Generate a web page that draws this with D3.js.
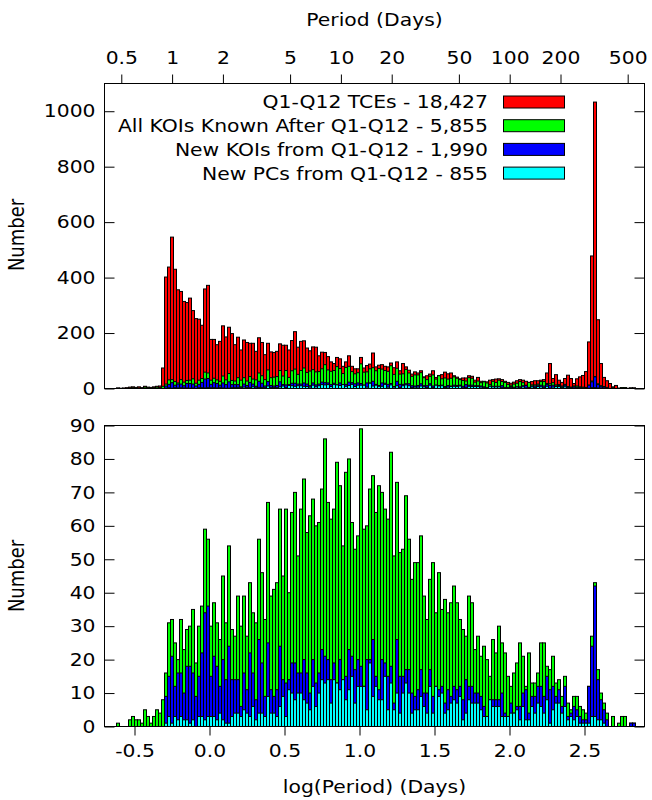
<!DOCTYPE html>
<html><head><meta charset="utf-8">
<script src="https://cdn.jsdelivr.net/npm/d3@7"></script>
<style>body{margin:0;background:#fff}svg{display:block}</style>
</head><body><svg id="c" width="652" height="800"></svg>
<script>
// histogram bins in log10(Period/days): left edge of first bin and bin width
const binStart = -0.62, binWidth = 0.02;

const tces = [2,1,2,3,5,6,4,6,3,8,
5,4,6,8,9,74,402,438,546,430,
356,350,314,310,326,281,252,250,228,359,
372,177,177,158,170,226,186,221,198,158,
185,139,175,166,163,163,134,183,166,122,
163,132,130,134,161,156,156,139,173,205,
149,170,172,146,136,150,149,118,131,130,
115,96,90,112,107,80,96,118,80,71,
71,112,74,83,88,128,78,84,86,80,
78,92,75,96,64,90,78,66,52,60,
56,64,42,46,52,64,40,47,50,59,
53,56,46,41,35,38,38,46,44,30,
40,26,26,24,30,32,34,35,32,26,
22,19,23,28,32,30,26,22,25,28,
28,30,32,56,90,36,50,30,22,36,
48,36,18,35,42,47,61,168,478,1033,
248,90,40,28,18,6,11,1,3,3,
1,2,2];

const allKOIs = [1,0,0,0,2,3,2,2,1,5,
3,1,3,5,4,8,16,31,32,25,
20,32,23,29,30,35,19,30,36,59,
56,30,37,31,26,45,31,54,29,27,
39,30,39,27,43,34,31,56,46,32,
67,39,41,43,65,45,65,40,64,70,
51,65,74,58,63,68,60,61,71,86,
67,62,65,79,72,54,76,80,61,53,
57,89,59,60,71,75,64,72,70,65,
62,82,51,73,52,53,69,56,44,49,
49,57,39,32,44,49,34,46,35,38,
34,37,42,37,32,29,27,39,37,23,
27,21,24,20,15,26,22,30,25,22,
15,12,16,19,25,21,12,22,13,13,
16,25,25,18,17,21,13,14,9,15,
7,5,9,9,6,5,4,12,27,43,
17,10,7,4,0,3,0,1,3,3,
0,1,1];

const newKOIs = [0,0,0,0,0,0,0,0,0,0,
0,0,0,0,0,0,9,15,21,12,
16,16,10,18,18,16,9,15,22,34,
36,15,21,18,12,20,14,24,14,14,
14,6,16,11,22,16,8,26,19,9,
25,11,9,11,24,14,13,14,19,19,
16,16,20,16,10,20,13,16,23,21,
20,14,19,13,20,14,15,23,21,17,
20,18,12,20,20,26,15,11,20,19,
15,18,7,26,15,15,17,17,10,9,
11,17,10,10,17,9,12,11,12,7,
11,9,12,11,12,8,14,12,12,10,
10,9,6,3,8,8,8,8,10,4,
3,7,4,6,6,10,11,4,9,9,
12,12,9,15,11,12,9,11,6,12,
3,4,6,5,3,2,2,12,24,42,
14,8,5,2,0,0,0,0,0,0,
0,1,1];

const newPCs = [0,0,0,0,0,0,0,0,0,0,
0,0,0,0,0,0,1,3,1,3,
2,3,2,2,1,2,0,3,3,2,
3,3,3,2,4,2,1,1,3,4,
4,3,5,4,3,6,2,4,4,3,
9,4,4,3,6,9,3,11,10,8,
10,10,8,7,5,12,6,10,14,13,
14,7,14,13,11,14,8,11,15,7,
12,12,12,5,19,9,12,8,8,15,
5,13,5,10,4,10,13,10,4,5,
5,9,6,4,12,4,12,9,10,4,
5,7,8,7,9,2,4,8,7,7,
7,5,3,3,8,6,6,6,3,3,
3,4,4,5,2,6,2,2,6,4,
7,6,4,8,1,5,7,7,4,6,
2,3,2,3,1,1,1,1,3,3,
2,2,1,0,0,0,0,0,0,0,
0,0,0];

const periodTicks = [0.5,1,2,5,10,20,50,100,200,500];
const logTicks = [-0.5,0,0.5,1,1.5,2,2.5];
const topYTicks = [0,200,400,600,800,1000];
const botYTicks = [0,10,20,30,40,50,60,70,80,90];
const legendLabels = ["Q1-Q12 TCEs - 18,427","All KOIs Known After Q1-Q12 - 5,855",
  "New KOIs from Q1-Q12 - 1,990","New PCs from Q1-Q12 - 855"];
const seriesColors = ["#ff0000","#00ff00","#0000ff","#00ffff"];

const FONT = "DejaVu Sans, sans-serif";
const SX = 1.13; // reference text is slightly wider than tall
const svg = d3.select("#c").style("font-family", FONT);
const L = 104.5, R = 644.5;
const x = d3.scaleLinear().domain([-0.7, 2.9]).range([L, R]);
const xTop = d3.scaleLog().domain([Math.pow(10,-0.4005), Math.pow(10,2.7986)]).range([L, R]);
const yTop = d3.scaleLinear().domain([0, 1100]).range([388.5, 83.5]);
const yBot = d3.scaleLinear().domain([0, 90]).range([726.5, 425.5]);

function drawBars(g, y, seriesList, colors) {
  seriesList.forEach((vals, si) => {
    const data = vals.map((v, i) => ({x0: binStart + i * binWidth, v})).filter(d => d.v > 0);
    g.append("g").selectAll("rect").data(data).join("rect")
      .attr("x", d => x(d.x0))
      .attr("width", d => x(d.x0 + binWidth) - x(d.x0))
      .attr("y", d => y(d.v))
      .attr("height", d => y(0) - y(d.v))
      .attr("fill", colors[si])
      .attr("stroke", "#000")
      .attr("stroke-width", 1);
  });
}

function styleAxis(sel) {
  sel.select(".domain").remove();
  sel.selectAll("text").attr("font-size", 18).attr("font-family", FONT).attr("fill", "#000");
  sel.selectAll("line").attr("stroke", "#000");
}

// ---- top panel ----
const gTop = svg.append("g");
drawBars(gTop, yTop, [tces, allKOIs, newKOIs, newPCs], seriesColors);
gTop.append("g").attr("transform", `translate(${L},0)`)
  .call(d3.axisLeft(yTop).tickValues(topYTicks).tickSize(-10).tickPadding(9).tickFormat(d3.format("d"))).call(styleAxis);
gTop.append("g").attr("transform", `translate(${R},0)`)
  .call(d3.axisRight(yTop).tickValues(topYTicks).tickSize(-10).tickFormat("")).call(styleAxis);
gTop.append("g").attr("transform", `translate(0,${yTop.range()[1]})`)
  .call(d3.axisTop(xTop).tickValues(periodTicks).tickSize(9).tickPadding(11).tickFormat(d3.format(""))).call(styleAxis);
gTop.append("rect").attr("x", L).attr("y", yTop.range()[1]).attr("width", R - L)
  .attr("height", yTop.range()[0] - yTop.range()[1]).attr("fill", "none").attr("stroke", "#000");

// legend
const legX = 488, boxX = 503, boxW = 61, rowY = [102, 125.7, 149.4, 173.1];
legendLabels.forEach((lab, i) => {
  gTop.append("text").attr("x", legX).attr("y", rowY[i]).attr("dy", "0.36em")
    .attr("text-anchor", "end").attr("font-size", 18).text(lab);
  gTop.append("rect").attr("x", boxX + 0.5).attr("y", rowY[i] - 6).attr("width", boxW).attr("height", 12)
    .attr("fill", seriesColors[i]).attr("stroke", "#000");
});

// ---- bottom panel ----
const gBot = svg.append("g");
drawBars(gBot, yBot, [allKOIs, newKOIs, newPCs], seriesColors.slice(1));
gBot.append("g").attr("transform", `translate(${L},0)`)
  .call(d3.axisLeft(yBot).tickValues(botYTicks).tickSize(-10).tickPadding(9).tickFormat(d3.format("d"))).call(styleAxis);
gBot.append("g").attr("transform", `translate(${R},0)`)
  .call(d3.axisRight(yBot).tickValues(botYTicks).tickSize(-10).tickFormat("")).call(styleAxis);
gBot.append("g").attr("transform", `translate(0,${yBot.range()[0]})`)
  .call(d3.axisBottom(x).tickValues(logTicks).tickSize(9).tickPadding(9).tickFormat(d => d.toFixed(1))).call(styleAxis);
gBot.append("rect").attr("x", L).attr("y", yBot.range()[1]).attr("width", R - L)
  .attr("height", yBot.range()[0] - yBot.range()[1]).attr("fill", "none").attr("stroke", "#000");

// titles
svg.append("text").attr("x", (L + R) / 2).attr("y", 26).attr("text-anchor", "middle").attr("font-size", 18).text("Period (Days)");
svg.append("text").attr("x", (L + R) / 2).attr("y", 793).attr("text-anchor", "middle").attr("font-size", 18).text("log(Period) (Days)");

// widen all horizontal text about its anchor point
svg.selectAll("text").each(function() {
  const t = d3.select(this);
  const ax = +(t.attr("x") || 0);
  t.attr("transform", `translate(${ax},0) scale(${SX},1) translate(${-ax},0)`);
});

[235, 576].forEach(cy => {
  svg.append("text").attr("transform", `translate(24,${cy}) scale(${SX},1) rotate(-90)`).attr("text-anchor", "middle")
    .attr("font-size", 18).text("Number");
});
</script></body></html>
